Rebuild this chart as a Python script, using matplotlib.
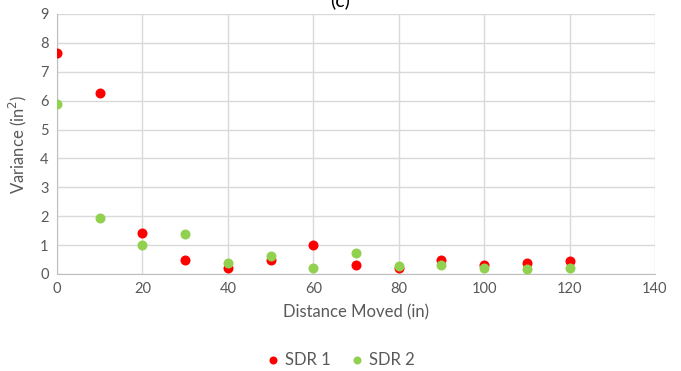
import matplotlib.pyplot as plt

plt.rcParams['font.family'] = ['Lato', 'DejaVu Sans']

# distance moved (in) and variance (in^2) for each sensor
distance = [0, 10, 20, 30, 40, 50, 60, 70, 80, 90, 100, 110, 120]
sdr1 = [7.65, 6.26, 1.42, 0.48, 0.2, 0.5, 1.02, 0.32, 0.2, 0.47, 0.3, 0.37, 0.45]
sdr2 = [5.87, 1.95, 1.0, 1.38, 0.39, 0.63, 0.22, 0.71, 0.28, 0.31, 0.19, 0.17, 0.19]

fig = plt.figure(figsize=(6.81, 3.71), dpi=100)
ax = fig.add_axes([0.0837, 0.2615, 0.878, 0.7008])

ax.scatter(distance, sdr1, s=52, color='#FF0000', label='SDR 1', zorder=3, linewidths=0)
ax.scatter(distance, sdr2, s=52, color='#92D050', label='SDR 2', zorder=4, linewidths=0)

ax.set_xlim(0, 140)
ax.set_ylim(0, 9)
ax.set_xticks(range(0, 141, 20))
ax.set_yticks(range(0, 10))
ax.grid(True, color='#d9d9d9', linewidth=1)
ax.set_axisbelow(True)
for side in ['top', 'right']:
    ax.spines[side].set_visible(False)
for side in ['left', 'bottom']:
    ax.spines[side].set_color('#bfbfbf')
ax.tick_params(length=0, colors='#595959', labelsize=10.5, pad=6)

ax.set_xlabel('Distance Moved (in)', fontsize=12, color='#595959', labelpad=6)
ax.set_ylabel('Variance (in$^2$)', fontsize=12, color='#595959', labelpad=8)

# panel title, sits right at the top edge
fig.text(0.5, 1.0, '(c)', ha='center', va='center', fontsize=14, color='black')

ax.legend(loc='center', bbox_to_anchor=(0.5, 0.03), bbox_transform=fig.transFigure,
          ncol=2, frameon=False, fontsize=12, labelcolor='#595959',
          handlelength=0.8, handletextpad=0.3, columnspacing=1.2, markerscale=0.8)

fig.savefig('out.png', dpi=100)
